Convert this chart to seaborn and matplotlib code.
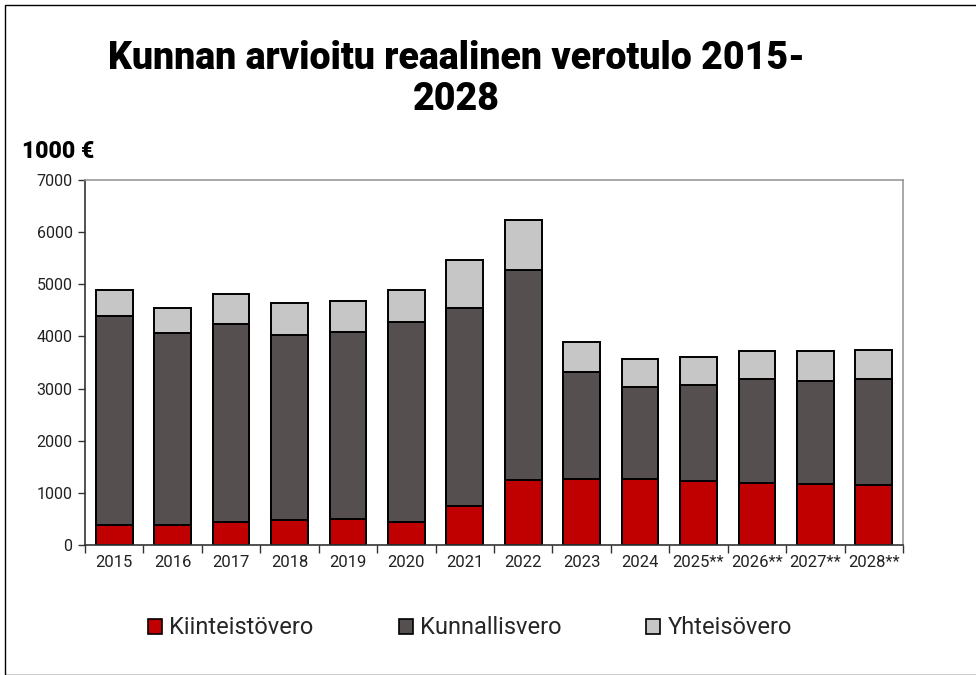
import matplotlib
matplotlib.use("Agg")
import matplotlib.pyplot as plt
import numpy as np
import pandas as pd
import seaborn as sns
from matplotlib.patches import Patch, Rectangle

years = ["2015", "2016", "2017", "2018", "2019", "2020", "2021", "2022",
         "2023", "2024", "2025**", "2026**", "2027**", "2028**"]
kiinteisto = [377, 377, 448, 486, 498, 448, 747, 1238, 1258, 1258, 1219, 1187, 1168, 1149]
kunnallis = [4020, 3681, 3783, 3534, 3593, 3834, 3790, 4040, 2061, 1767, 1857, 1991, 1979, 2029]
yhteiso = [492, 479, 587, 620, 580, 607, 938, 957, 575, 536, 536, 536, 567, 568]

c_red = "#C00000"
c_dark = "#554F4F"
c_light = "#C6C6C6"

df = pd.DataFrame({"year": years, "k1": kiinteisto, "k2": kunnallis, "k3": yhteiso})
df["lvl1"] = df["k1"]
df["lvl2"] = df["k1"] + df["k2"]
df["lvl3"] = df["lvl2"] + df["k3"]

sns.set_theme(style="white")
plt.rcParams["font.family"] = ["Roboto", "DejaVu Sans"]

fig = plt.figure(figsize=(9.76, 6.75), dpi=100)
ax = fig.add_axes([85 / 976, 1 - 545 / 675, (903 - 85) / 976, (545 - 180) / 675])

# stacked by layering cumulative totals
for col, colr in [("lvl3", c_light), ("lvl2", c_dark), ("lvl1", c_red)]:
    sns.barplot(data=df, x="year", y=col, color=colr, width=0.63,
                edgecolor="black", linewidth=1.4, saturation=1, ax=ax)

ax.set_xlim(-0.5, len(years) - 0.5)
ax.set_ylim(0, 7000)
ax.set_yticks(np.arange(0, 7001, 1000))
ax.set_xlabel("")
ax.set_ylabel("")
ax.tick_params(axis="y", which="major", left=True, length=5, width=1, color="#333333",
               labelsize=11.5, pad=4, labelcolor="#222222")
ax.tick_params(axis="x", which="major", length=0, labelsize=12, pad=7, labelcolor="#222222")
ax.set_xticks(np.arange(-0.5, len(years), 1), minor=True)
ax.tick_params(axis="x", which="minor", bottom=True, length=6, width=1, color="#333333")

for s in ["left", "bottom"]:
    ax.spines[s].set_color("#333333")
    ax.spines[s].set_linewidth(1.2)
for s in ["top", "right"]:
    ax.spines[s].set_color("#999999")
    ax.spines[s].set_linewidth(1.2)

fig.text(456 / 976, 1 - 79 / 675, "Kunnan arvioitu reaalinen verotulo 2015-\n2028",
         ha="center", va="center", fontsize=27, fontweight="black", linespacing=1.12,
         color="black")
fig.text(22 / 976, 1 - 151 / 675, "1000 €", ha="left", va="center",
         fontsize=16.5, fontweight="black", color="black")

handles = [Patch(facecolor=c_red, edgecolor="black", linewidth=1.2, label="Kiinteistövero"),
           Patch(facecolor=c_dark, edgecolor="black", linewidth=1.2, label="Kunnallisvero"),
           Patch(facecolor=c_light, edgecolor="black", linewidth=1.2, label="Yhteisövero")]
fig.legend(handles=handles, loc="center", bbox_to_anchor=(470 / 976, 1 - 628 / 675),
           ncol=3, frameon=False, fontsize=17, handlelength=0.6, handleheight=0.6,
           handletextpad=0.3, columnspacing=3.6)

fig.patches.append(Rectangle((5 / 976, 0), 1, 1 - 5 / 675, transform=fig.transFigure,
                             fill=False, edgecolor="black", linewidth=1))

fig.savefig("out.png", dpi=100)
